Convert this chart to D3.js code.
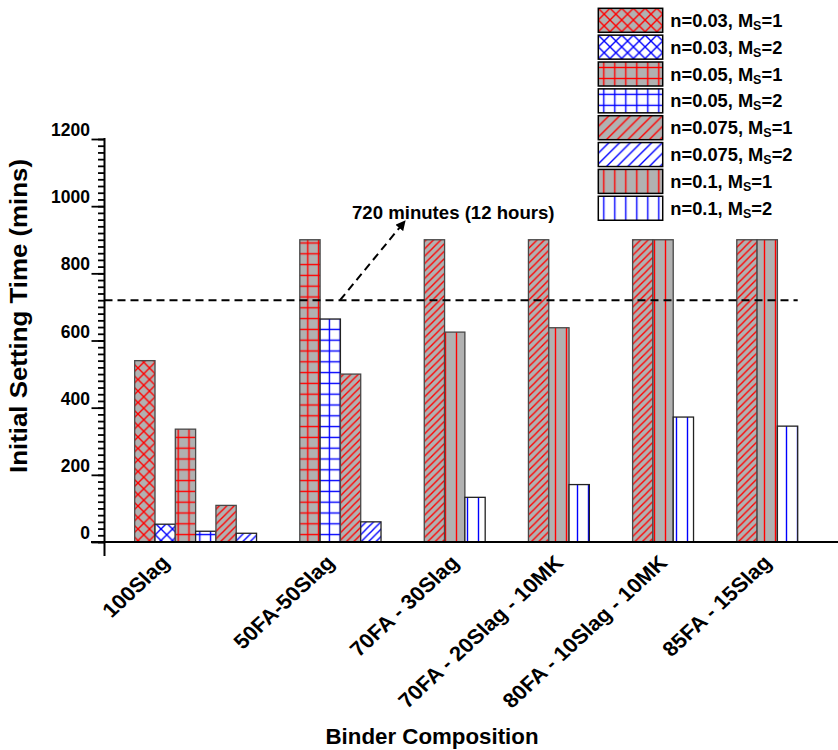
<!DOCTYPE html>
<html>
<head>
<meta charset="utf-8">
<script src="https://cdn.jsdelivr.net/npm/d3@7"></script>
<style>
  html, body { margin: 0; padding: 0; background: #fff; }
  svg { display: block; }
  text { font-family: "Liberation Sans", Arial, sans-serif; font-weight: bold; fill: #000; }
</style>
</head>
<body>
<svg id="chart" width="838" height="750"></svg>
<script>
// ---------------- data ----------------
const categories = ["100Slag", "50FA-50Slag", "70FA - 30Slag", "70FA - 20Slag - 10MK", "80FA - 10Slag - 10MK", "85FA - 15Slag"];
const seriesN  = ["0.03", "0.03", "0.05", "0.05", "0.075", "0.075", "0.1", "0.1"];
const seriesMs = ["1", "2", "1", "2", "1", "2", "1", "2"];
// values per series, one per category (null = not tested)
const s_n003_ms1  = [540, null, null, null, null, null];
const s_n003_ms2  = [53,  null, null, null, null, null];
const s_n005_ms1  = [336, 900,  null, null, null, null];
const s_n005_ms2  = [32,  664,  null, null, null, null];
const s_n0075_ms1 = [109, 500,  900,  900,  900,  900];
const s_n0075_ms2 = [26,  60,   null, null, null, null];
const s_n01_ms1   = [null, null, 625, 638,  900,  900];
const s_n01_ms2   = [null, null, 133, 171,  372,  345];
const seriesValues = [s_n003_ms1, s_n003_ms2, s_n005_ms1, s_n005_ms2, s_n0075_ms1, s_n0075_ms2, s_n01_ms1, s_n01_ms2];
const yTicks = [0, 200, 400, 600, 800, 1000, 1200];
const limitValue = 720;
const limitLabel = "720 minutes (12 hours)";
const xTitle = "Binder Composition";
const yTitle = "Initial Setting Time (mins)";

// ---------------- styles ----------------
const hatchKind = ["cross", "cross", "grid", "grid", "diag", "diag", "vert", "vert"];
const isMs1 = seriesMs.map(m => m === "1");

const svg = d3.select("#chart");
const defs = svg.append("defs");

function makePattern(id, kind, ms1, size) {
  const color = ms1 ? "#ff0000" : "#0000ff";
  const bg = ms1 ? "#b1b1b1" : "#ffffff";
  const p = defs.append("pattern").attr("id", id)
    .attr("patternUnits", "userSpaceOnUse")
    .attr("width", size).attr("height", size);
  p.append("rect").attr("width", size).attr("height", size).attr("fill", bg);
  const sw = 1.4;
  const line = (x1, y1, x2, y2) => p.append("line")
    .attr("x1", x1).attr("y1", y1).attr("x2", x2).attr("y2", y2)
    .attr("stroke", color).attr("stroke-width", sw);
  if (kind === "cross") {
    line(0, 0, size, size); line(0, size, size, 0);
  } else if (kind === "grid") {
    line(size / 2, 0, size / 2, size); line(0, size / 2, size, size / 2);
  } else if (kind === "diag") {
    line(0, size, size, 0); line(-size / 2, size / 2, size / 2, -size / 2); line(size / 2, size * 1.5, size * 1.5, size / 2);
  } else if (kind === "vert") {
    line(size / 2, 0, size / 2, size);
  }
}
const barPatternSize = { cross: 11.5, grid: 10.8, diag: 7.4, vert: 11 };
const legPatternSize = { cross: 11.7, grid: 11, diag: 10.7, vert: 11 };
seriesN.forEach((n, i) => {
  makePattern("bp" + i, hatchKind[i], isMs1[i], barPatternSize[hatchKind[i]]);
  makePattern("lp" + i, hatchKind[i], isMs1[i], legPatternSize[hatchKind[i]]);
});
defs.append("marker").attr("id", "arrow")
  .attr("viewBox", "0 0 10 10").attr("refX", 9).attr("refY", 5)
  .attr("markerWidth", 10).attr("markerHeight", 10).attr("markerUnits", "userSpaceOnUse")
  .attr("orient", "auto")
  .append("path").attr("d", "M0,0 L10,5 L0,10 Z").attr("fill", "#000");

// ---------------- layout ----------------
const axisX = 104.5, axisY0 = 542, axisTop = 139;
const groupGap = 2.13; // gap between groups, in bar widths

// bars present per category, in series order
const groups = categories.map((c, ci) => ({
  cat: c,
  bars: seriesValues.map((arr, si) => ({ si, v: arr[ci] })).filter(d => d.v !== null)
}));
let cursor = 0;
groups.forEach((g, gi) => {
  g.start = cursor;
  g.bars.forEach((b, k) => { b.slot = cursor + k; });
  cursor += g.bars.length;
  g.end = cursor;
  if (gi < groups.length - 1) cursor += groupGap;
});
const totalSlots = cursor;

const x = d3.scaleLinear().domain([0, totalSlots]).range([134.7, 797.7]);
const y = d3.scaleLinear().domain([0, 1200]).range([axisY0, axisTop]);

// ---------------- bars ----------------
const barG = svg.append("g");
groups.forEach(g => {
  barG.selectAll(null).data(g.bars).enter().append("rect")
    .attr("x", d => x(d.slot))
    .attr("y", d => y(d.v))
    .attr("width", d => x(d.slot + 1) - x(d.slot))
    .attr("height", d => y(0) - y(d.v))
    .attr("fill", d => `url(#bp${d.si})`)
    .attr("stroke", d => isMs1[d.si] ? "#484848" : "#222")
    .attr("stroke-width", 1.3);
});

// ---------------- limit line + arrow ----------------
svg.append("line")
  .attr("x1", axisX).attr("x2", x(totalSlots))
  .attr("y1", y(limitValue)).attr("y2", y(limitValue))
  .attr("stroke", "#000").attr("stroke-width", 2).attr("stroke-dasharray", "8,5");
svg.append("line")
  .attr("x1", 340).attr("y1", y(limitValue))
  .attr("x2", 405).attr("y2", 221)
  .attr("stroke", "#000").attr("stroke-width", 2).attr("stroke-dasharray", "8,5")
  .attr("marker-end", "url(#arrow)");
svg.append("text").attr("x", 352).attr("y", 219)
  .attr("font-size", 18.6).text(limitLabel);

// ---------------- axes ----------------
const minorAxis = d3.axisLeft(y).tickValues(d3.range(0, 1201, 20)).tickSize(6.5).tickFormat("");
const majorAxis = d3.axisLeft(y).tickValues(yTicks).tickSize(13).tickPadding(1.5).tickFormat(d3.format("d"));
const gMinor = svg.append("g").attr("transform", `translate(${axisX},0)`).call(minorAxis);
const gMajor = svg.append("g").attr("transform", `translate(${axisX},0)`).call(majorAxis);
[gMinor, gMajor].forEach(g => {
  g.select(".domain").remove();
  g.selectAll(".tick line").attr("stroke", "#000").attr("stroke-width", 1.8);
});
gMajor.selectAll(".tick text")
  .attr("dy", -3.5)
  .attr("font-size", 17.5).attr("font-family", "Liberation Sans, Arial, sans-serif").attr("font-weight", "bold");

svg.append("line").attr("x1", axisX).attr("x2", axisX).attr("y1", axisTop - 1).attr("y2", 556)
  .attr("stroke", "#000").attr("stroke-width", 2);
svg.append("line").attr("x1", 91).attr("x2", 838).attr("y1", axisY0).attr("y2", axisY0)
  .attr("stroke", "#000").attr("stroke-width", 2);

// category labels
svg.selectAll(null).data(groups).enter().append("text")
  .attr("transform", g => `translate(${x(g.start) + 36},${564}) scale(1.08,1) rotate(-45)`)
  .attr("text-anchor", "end")
  .attr("font-size", 20.5)
  .text(g => g.cat);

// axis titles
svg.append("text").attr("transform", "translate(27,316) rotate(-90)")
  .attr("text-anchor", "middle").attr("font-size", 23)
  .attr("textLength", 314).attr("lengthAdjust", "spacingAndGlyphs").text(yTitle);
svg.append("text").attr("x", 432).attr("y", 744)
  .attr("text-anchor", "middle").attr("font-size", 22.3).text(xTitle);

// ---------------- legend ----------------
const legend = svg.append("g");
const rowH = 26.85;
const leg = legend.selectAll(null).data(seriesN.map((n, i) => ({ n, ms: seriesMs[i], i }))).enter()
  .append("g").attr("transform", d => `translate(598.3,${8.3 + d.i * rowH})`);
leg.append("rect").attr("width", 64.4).attr("height", 24)
  .attr("fill", d => `url(#lp${d.i})`).attr("stroke", "#000").attr("stroke-width", 1.5);
const lt = leg.append("text").attr("x", 72).attr("y", 18.5).attr("font-size", 18.3);
lt.append("tspan").text(d => `n=${d.n}, M`);
lt.append("tspan").attr("font-size", 12.5).attr("dy", 3).text("S");
lt.append("tspan").attr("dy", -3).text(d => `=${d.ms}`);
</script>
</body>
</html>
